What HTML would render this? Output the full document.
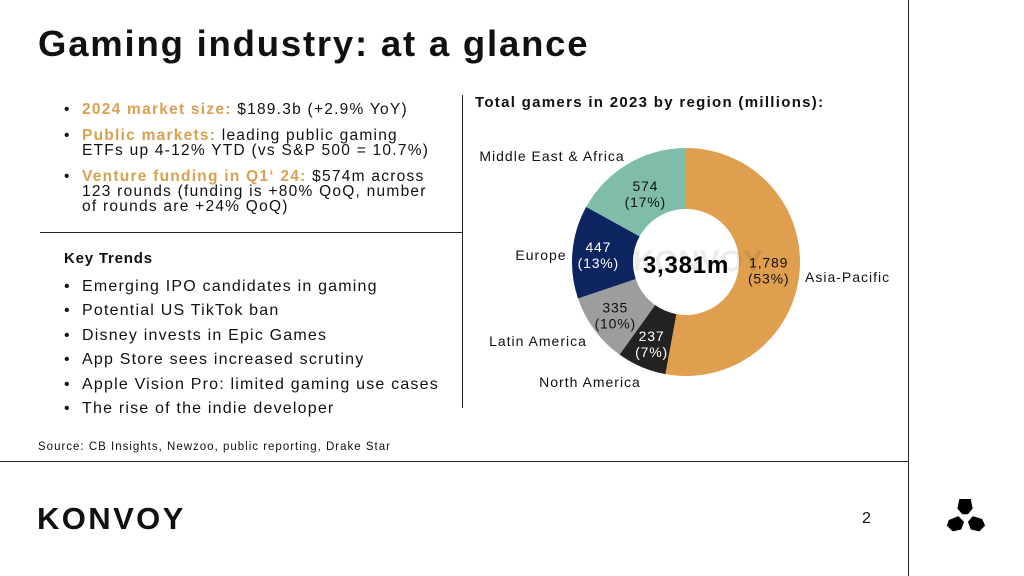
<!DOCTYPE html>
<html><head><meta charset="utf-8"><style>
body{margin:0;width:1024px;height:576px;background:#fff;position:relative;overflow:hidden;font-family:"Liberation Sans",sans-serif;color:#111}
.a{position:absolute;white-space:nowrap}
.t{font-size:15.5px;line-height:15px;letter-spacing:1.25px}
.o{color:#d9a050;font-weight:bold}
.b{position:absolute;left:-18px}
</style></head><body>
<div class="a" style="left:38px;top:23px;font-size:36.5px;font-weight:bold;letter-spacing:1.8px">Gaming industry: at a glance</div>
<div class="a" style="left:908px;top:0;width:1px;height:576px;background:#222"></div>
<div class="a" style="left:0;top:461px;width:908px;height:1px;background:#222"></div>
<div class="a" style="left:462px;top:95px;width:1px;height:313px;background:#222"></div>
<div class="a" style="left:40px;top:232px;width:422px;height:1px;background:#222"></div>

<div>
<div class="a t" style="left:82px;top:102px"><span class="b">•</span><span class="o">2024 market size:</span> $189.3b (+2.9% YoY)</div>
<div class="a t" style="left:82px;top:128px"><span class="b">•</span><span class="o">Public markets:</span> leading public gaming<br>ETFs up 4-12% YTD (vs S&amp;P 500 = 10.7%)</div>
<div class="a t" style="left:82px;top:169px"><span class="b">•</span><span class="o">Venture funding in Q1‘ 24:</span> $574m across<br>123 rounds (funding is +80% QoQ, number<br>of rounds are +24% QoQ)</div>
</div>
<div>
<div class="a" style="left:64px;top:250px;font-size:15px;font-weight:bold;letter-spacing:0.8px">Key Trends</div>
<div class="a t" style="left:82px;top:275px;font-size:16px;line-height:24.4px;letter-spacing:1.2px"><span class="b">•</span>Emerging IPO candidates in gaming<br><span class="b">•</span>Potential US TikTok ban<br><span class="b">•</span>Disney invests in Epic Games<br><span class="b">•</span>App Store sees increased scrutiny<br><span class="b">•</span>Apple Vision Pro: limited gaming use cases<br><span class="b">•</span>The rise of the indie developer</div>
</div>
<div class="a" style="left:38px;top:441px;font-size:11.5px;letter-spacing:1px">Source: CB Insights, Newzoo, public reporting, Drake Star</div>
<div class="a" style="left:37px;top:501px;font-size:31px;font-weight:900;letter-spacing:2.4px">KONVOY</div>
<div class="a" style="left:862px;top:510px;font-size:16px">2</div>
<svg class="a" style="left:944px;top:498px" width="44" height="42" viewBox="0 0 44 44">
<path d="M15,1 L27,1 L29,11 L24,17 L18,17 L13,11Z" fill="#000"/>
<path d="M4,23 L14,19 L20,25 L17,33 L8,35 L2,29Z" fill="#000"/>
<path d="M29,19 L39,22 L42,29 L36,35 L27,33 L24,25Z" fill="#000"/>
</svg>
<div class="a" style="left:475px;top:94px;font-size:15px;font-weight:bold;letter-spacing:1.3px">Total gamers in 2023 by region (millions):</div>
<svg class="a" id="chart" style="left:0;top:0" width="1024" height="576"></svg>
<script>
const regions=["Asia-Pacific","North America","Latin America","Europe","Middle East & Africa"];
const values=[1789,237,335,447,574];
const pcts=["53%","7%","10%","13%","17%"];
const valueLabels=["1,789","237","335","447","574"];
const colors=["#e09f4e","#222222","#9d9d9d","#0c2460","#7fbca9"];
const svg=document.getElementById('chart');const NS='http://www.w3.org/2000/svg';
const cx=686,cy=262,R=114,r=53;
const total=values.reduce((a,b)=>a+b,0);
function pt(a,rad){return [cx+rad*Math.sin(a),cy-rad*Math.cos(a)];}
let acc=0;
const outside=[[805,282,'start'],[590,387,'middle'],[538,346,'middle'],[541,260,'middle'],[552,161,'middle']];
const labelR=[83,88,88,88,80];
values.forEach((v,i)=>{
 const a0=acc/total*2*Math.PI;acc+=v;const a1=acc/total*2*Math.PI;
 const large=(a1-a0)>Math.PI?1:0;
 const p0=pt(a0,R),p1=pt(a1,R),q1=pt(a1,r),q0=pt(a0,r);
 const p=document.createElementNS(NS,'path');
 p.setAttribute('d',`M${p0}L${p0}A${R},${R} 0 ${large} 1 ${p1}L${q1}A${r},${r} 0 ${large} 0 ${q0}Z`);
 p.setAttribute('fill',colors[i]);
 
 
 svg.appendChild(p);
 const m=(a0+a1)/2;const [lx,ly]=pt(m,labelR[i]);
 const fill=(i==1||i==3)?'#fff':'#111';
 [valueLabels[i],'('+pcts[i]+')'].forEach((s,k)=>{
  const t=document.createElementNS(NS,'text');
  t.setAttribute('x',lx);t.setAttribute('y',ly-2+k*16);t.setAttribute('text-anchor','middle');
  t.setAttribute('font-size','14');t.setAttribute('letter-spacing','0.8');t.setAttribute('fill',fill);t.setAttribute('font-family','Liberation Sans, sans-serif');
  t.textContent=s;
  
  
  svg.appendChild(t);
 });
 const o=document.createElementNS(NS,'text');
 o.setAttribute('x',outside[i][0]);o.setAttribute('y',outside[i][1]);o.setAttribute('text-anchor',outside[i][2]);
 o.setAttribute('font-size','14');o.setAttribute('letter-spacing','1');o.setAttribute('fill','#111');o.setAttribute('font-family','Liberation Sans, sans-serif');
 o.textContent=regions[i];
 
 
 svg.appendChild(o);
});
const w=document.createElementNS(NS,'text');
w.setAttribute('x',cx+12);w.setAttribute('y',cy+9);w.setAttribute('text-anchor','middle');w.setAttribute('font-size','30');w.setAttribute('font-weight','bold');w.setAttribute('fill','rgba(0,0,0,0.08)');w.setAttribute('font-family','Liberation Sans, sans-serif');
w.textContent='KONVOY';


svg.appendChild(w);
const c=document.createElementNS(NS,'text');
c.setAttribute('x',cx);c.setAttribute('y',cy+11);c.setAttribute('text-anchor','middle');c.setAttribute('font-size','24');c.setAttribute('letter-spacing','0.8');c.setAttribute('font-weight','bold');c.setAttribute('fill','#000');c.setAttribute('font-family','Liberation Sans, sans-serif');
c.textContent='3,381m';


svg.appendChild(c);
</script>
</body></html>
